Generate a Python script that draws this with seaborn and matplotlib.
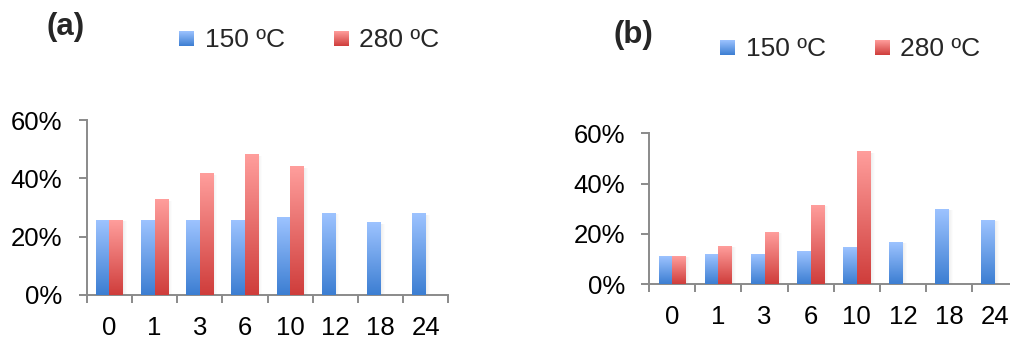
import numpy as np
import pandas as pd
import matplotlib
matplotlib.use("Agg")
import matplotlib.pyplot as plt
import seaborn as sns
from matplotlib.colors import to_rgb
from matplotlib.patches import Rectangle

# ---- data -------------------------------------------------------------
times = ["0", "1", "3", "6", "10", "12", "18", "24"]
temps = ["150 ºC", "280 ºC"]

# panel (a)
a_150 = [25.7, 25.4, 25.4, 25.4, 26.7, 28.1, 24.7, 27.8]
a_280 = [25.7, 32.6, 41.5, 48.3, 44.2, None, None, None]
# panel (b)
b_150 = [10.8, 11.6, 11.6, 12.8, 14.4, 16.4, 29.5, 25.2]
b_280 = [10.8, 14.8, 20.4, 31.1, 52.6, None, None, None]

y_ticks = [0, 20, 40, 60]
y_tick_labels = ["0%", "20%", "40%", "60%"]
panel_labels = ["(a)", "(b)"]

# ---- style ------------------------------------------------------------
sns.set_theme(style="white")
plt.rcParams["font.family"] = ["Liberation Sans", "DejaVu Sans"]

W, H = 1010, 338
DPI = 100
TOP = {temps[0]: "#9DC3FF", temps[1]: "#FF9E9C"}
BOTTOM = {temps[0]: "#3C7ED2", temps[1]: "#CF3D3B"}
AXIS_GREY = "#8A8A8A"
KEY_PX = 15  # legend key side, pixels


def long_frame(v150, v280):
    rows = []
    for t, v in zip(times, v150):
        if v is not None:
            rows.append({"time": t, "temp": temps[0], "value": v})
    for t, v in zip(times, v280):
        if v is not None:
            rows.append({"time": t, "temp": temps[1], "value": v})
    return pd.DataFrame(rows)


def gradient(top, bottom, n=256):
    t = np.linspace(0, 1, n)[:, None]
    c0 = np.array(to_rgb(top))
    c1 = np.array(to_rgb(bottom))
    return (c0 * (1 - t) + c1 * t)[:, None, :]


def shade_bars(ax):
    """Replace flat bar faces with a vertical light-to-dark gradient."""
    xlim, ylim = ax.get_xlim(), ax.get_ylim()
    for p in list(ax.patches):
        h = p.get_height()
        if not np.isfinite(h) or h <= 0:
            continue
        fc = np.array(p.get_facecolor()[:3])
        key = min(temps, key=lambda k: np.abs(fc - np.array(to_rgb(BOTTOM[k]))).sum())
        x0, w = p.get_x(), p.get_width()
        ax.imshow(gradient(TOP[key], BOTTOM[key]), extent=[x0, x0 + w, 0, h],
                  aspect="auto", origin="upper", zorder=3, interpolation="bilinear")
        # faint drop shadow on the right side of the bar
        sh = np.zeros((1, 32, 4))
        sh[..., :3] = 0.5
        sh[0, :, 3] = np.linspace(0.13, 0.0, 32)
        ax.imshow(sh, extent=[x0 + w, x0 + w + 0.07, 0, h * 0.985],
                  aspect="auto", zorder=2, interpolation="bilinear")
        p.set_visible(False)
    ax.set_xlim(xlim)
    ax.set_ylim(ylim)


fig = plt.figure(figsize=(W / DPI, H / DPI), dpi=DPI)

panels = [
    dict(v150=a_150, v280=a_280, rect=[86.7, 120, 448.3, 295],
         leg=(309, 40), lab=(66, 27)),
    dict(v150=b_150, v280=b_280, rect=[649.3, 133.3, 1018.1, 284.3],
         leg=(850, 48.5), lab=(633.5, 35)),
]

legends = []
for spec, label in zip(panels, panel_labels):
    x0, yt, x1, yb = spec["rect"]
    ax = fig.add_axes([x0 / W, 1 - yb / H, (x1 - x0) / W, (yb - yt) / H])
    df = long_frame(spec["v150"], spec["v280"])
    sns.barplot(data=df, x="time", y="value", hue="temp", order=times,
                hue_order=temps, palette=BOTTOM, saturation=1, width=0.6,
                errorbar=None, legend=False, ax=ax)
    ax.set_xlim(-0.5, len(times) - 0.5)
    ax.set_ylim(0, 60)
    ax.set_xlabel("")
    ax.set_ylabel("")
    ax.set_yticks(y_ticks)
    ax.set_yticklabels(y_tick_labels)
    ax.set_xticks(np.arange(-0.5, len(times), 1.0), minor=True)
    ax.tick_params(axis="x", which="major", length=0, pad=15, labelsize=18.5,
                   colors="black")
    ax.tick_params(axis="x", which="minor", length=5.5, width=1.4,
                   color=AXIS_GREY, direction="out", bottom=True)
    ax.tick_params(axis="y", which="major", length=5.5, width=1.4,
                   color=AXIS_GREY, direction="out", left=True, pad=12,
                   labelsize=18.5, labelcolor="black")
    for side in ("top", "right"):
        ax.spines[side].set_visible(False)
    for side in ("left", "bottom"):
        ax.spines[side].set_color(AXIS_GREY)
        ax.spines[side].set_linewidth(1.4)
    ax.set_facecolor("none")
    shade_bars(ax)

    handles = [Rectangle((0, 0), 1, 1, facecolor=BOTTOM[t], edgecolor="none")
               for t in temps]
    lx, ly = spec["leg"]
    leg = ax.legend(handles, temps, loc="center",
                    bbox_to_anchor=(lx / W, 1 - ly / H),
                    bbox_transform=fig.transFigure, ncol=2, frameon=False,
                    fontsize=19, handlelength=0.58, handleheight=0.5,
                    handletextpad=0.4, columnspacing=1.85, borderpad=0,
                    borderaxespad=0)
    legends.append(leg)

    lx, ly = spec["lab"]
    fig.text(lx / W, 1 - ly / H, label, ha="center", va="center",
             fontsize=22.5, fontweight="bold")

# gradient faces for the legend keys, drawn in pixel space on top
fig.canvas.draw()
renderer = fig.canvas.get_renderer()
ov = fig.add_axes([0, 0, 1, 1], zorder=10)
ov.axis("off")
ov.patch.set_alpha(0)
for leg in legends:
    for p, t in zip(leg.get_patches(), temps):
        bb = p.get_window_extent(renderer)
        cx, cy = (bb.x0 + bb.x1) / 2, (bb.y0 + bb.y1) / 2 - 1
        p.set_alpha(0)
        ov.imshow(gradient(TOP[t], BOTTOM[t]),
                  extent=[cx - KEY_PX / 2, cx + KEY_PX / 2,
                          cy - KEY_PX / 2, cy + KEY_PX / 2],
                  aspect="auto", origin="upper", interpolation="bilinear")
ov.set_xlim(0, W)
ov.set_ylim(0, H)

fig.savefig("out.png", dpi=DPI)
